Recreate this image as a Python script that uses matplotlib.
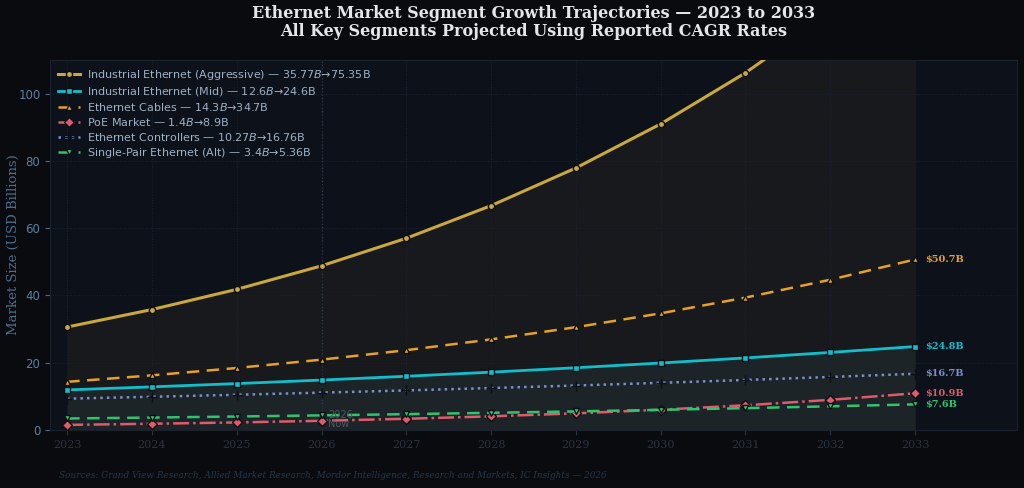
import matplotlib
matplotlib.use("Agg")
import matplotlib.pyplot as plt

years = list(range(2023, 2034))

# values (USD billions)
ind_aggr = [30.6, 35.8, 41.8, 48.8, 57.0, 66.7, 77.9, 91.0, 106.2, 124.0, 144.8]
ind_mid = [11.9, 12.81, 13.78, 14.83, 15.96, 17.18, 18.49, 19.90, 21.41, 23.05, 24.80]
cables = [14.3, 16.23, 18.42, 20.90, 23.72, 26.92, 30.55, 34.67, 39.35, 44.66, 50.70]
poe = [1.5, 1.83, 2.23, 2.72, 3.32, 4.04, 4.93, 6.01, 7.33, 8.94, 10.9]
controllers = [9.3, 9.86, 10.46, 11.09, 11.75, 12.46, 13.21, 14.01, 14.85, 15.75, 16.70]
spe = [3.4, 3.68, 3.99, 4.33, 4.69, 5.09, 5.51, 5.97, 6.48, 7.02, 7.6]

labels = [
    "Industrial Ethernet (Aggressive) — $35.77B→$75.35B",
    "Industrial Ethernet (Mid) — $12.6B→$24.6B",
    "Ethernet Cables — $14.3B→$34.7B",
    "PoE Market — $1.4B→$8.9B",
    "Ethernet Controllers — $10.27B→$16.76B",
    "Single-Pair Ethernet (Alt) — $3.4B→$5.36B",
]
end_labels = [None, "$24.8B", "$50.7B", "$10.9B", "$16.7B", "$7.6B"]

BG = "#0a0b0f"
AX_BG = "#0c111a"

series = [
    (ind_aggr, "#c9a83e", "-", "o", 2.2, 4.5),
    (ind_mid, "#11bfcc", "-", "s", 2.0, 5),
    (cables, "#e6a126", (0, (5, 3)), "^", 1.8, 4.5),
    (poe, "#e05a6b", "-.", "D", 1.8, 5),
    (controllers, "#7b8fcb", ":", "+", 1.8, 7),
    (spe, "#2fc46e", (0, (5, 3)), "v", 1.8, 4.5),
]

fig = plt.figure(figsize=(10.24, 4.88), dpi=100, facecolor=BG)
ax = fig.add_axes([0.049, 0.119, 0.944, 0.758])
ax.set_facecolor(AX_BG)

ax.fill_between(years, 0, ind_aggr, color="#c9a83e", alpha=0.06, lw=0)
ax.fill_between(years, 0, ind_mid, color="#5fb8c0", alpha=0.07, lw=0)

for (vals, col, ls, mk, lw, ms), lab, endl in zip(series, labels, end_labels):
    ax.plot(years, vals, color=col, ls=ls, lw=lw, marker=mk, ms=ms,
            mec="#0b0f16", mew=1.0, label=lab, zorder=3)
    if endl:
        ax.annotate(endl, (years[-1], vals[-1]), xytext=(7, 0),
                    textcoords="offset points", va="center", ha="left",
                    color=col, fontsize=7, fontweight="bold",
                    family="DejaVu Serif", annotation_clip=False)

ax.axvline(2026, color="#3a4150", ls=":", lw=0.9, zorder=1)
ax.text(2026.08, 3.2, "2026\nNow", color="#4c5563", fontsize=7,
        va="center", ha="left", linespacing=0.9)

ax.set_xlim(2022.8, 2034.2)
ax.set_ylim(0, 110)
ax.set_xticks(years)
ax.set_xticklabels([str(y) for y in years], family="DejaVu Serif",
                   color="#9aa5b4", fontsize=8)
ax.tick_params(axis="y", colors="#4a6a8a", labelsize=8.5, labelcolor="#5b7fa3")
ax.tick_params(axis="x", colors="#2a3440")
ax.grid(True, color="#1c2330", ls=":", lw=0.7)
for s in ax.spines.values():
    s.set_color("#1a2230")

ax.set_ylabel("Market Size (USD Billions)", family="DejaVu Serif",
              color="#4d6e8f", fontsize=9.5)
ax.yaxis.set_label_coords(-0.031, 0.5)

leg = ax.legend(loc="upper left", fontsize=8, frameon=False,
                labelcolor="#9fb1c4", handlelength=2.0, handletextpad=0.6,
                borderaxespad=0.3, labelspacing=0.28)

ax.set_title("Ethernet Market Segment Growth Trajectories — 2023 to 2033\n"
             "All Key Segments Projected Using Reported CAGR Rates",
             family="DejaVu Serif", fontweight="bold", color="#e4e6ea",
             fontsize=11.5, pad=17, linespacing=1.1)

fig.text(0.058, 0.02,
         "Sources: Grand View Research, Allied Market Research, Mordor Intelligence, "
         "Research and Markets, IC Insights — 2026",
         family="DejaVu Serif", style="italic", color="#24394d", fontsize=6.4)

fig.savefig("out.png", dpi=100, facecolor=BG)
